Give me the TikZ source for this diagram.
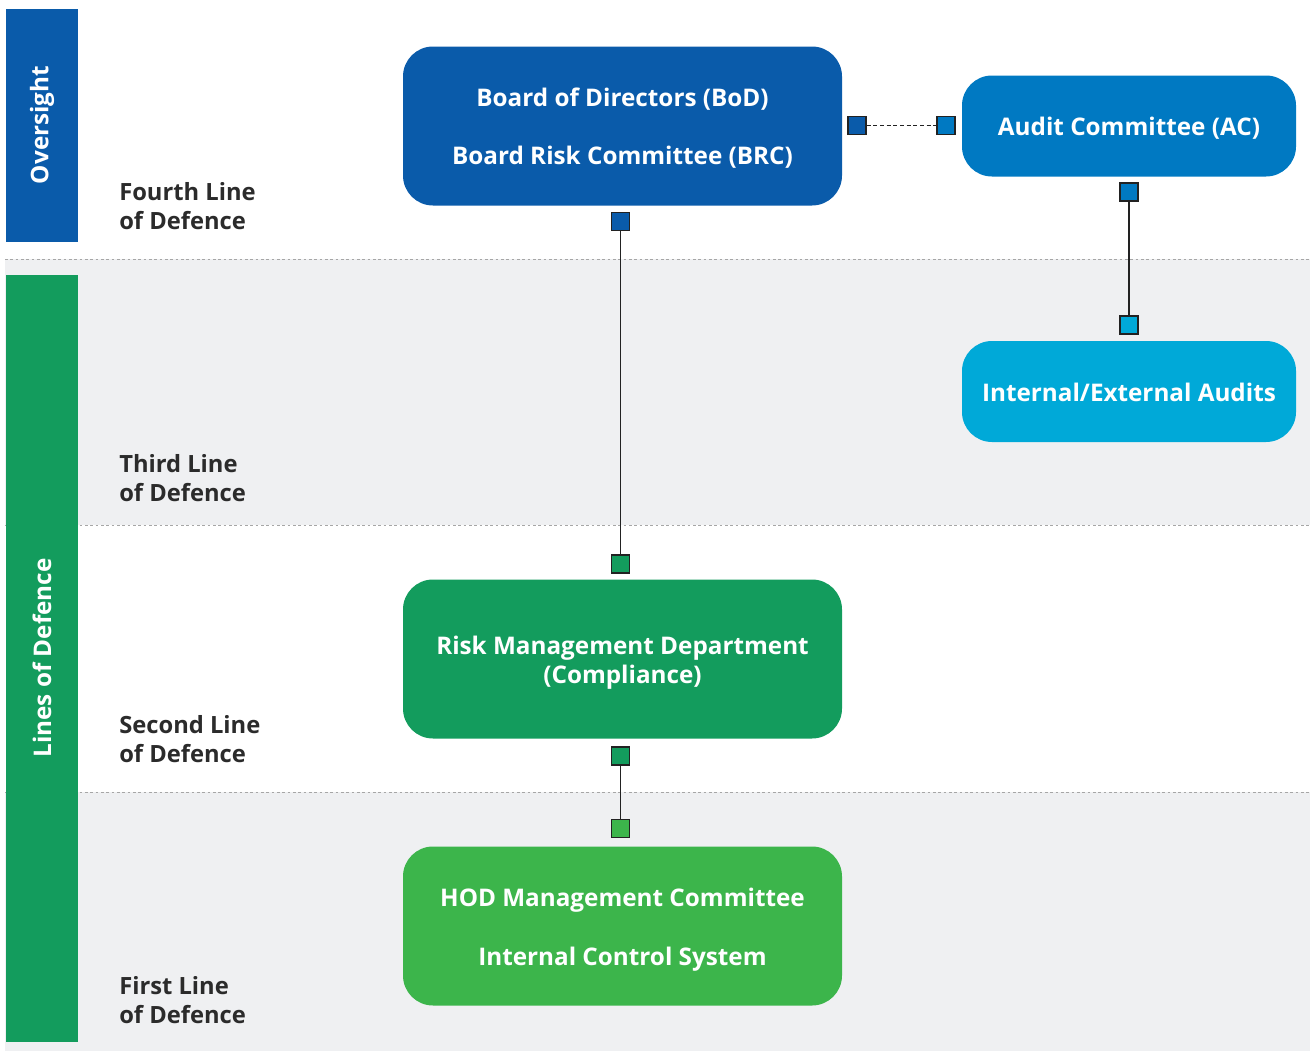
\documentclass[tikz,border=0pt]{standalone}
\usepackage{fontspec}
\setmainfont{Open Sans}
\definecolor{navy}{HTML}{0A5BAA}
\definecolor{midblue}{HTML}{0079C2}
\definecolor{skyblue}{HTML}{00A9D8}
\definecolor{leaf}{HTML}{139C5D}
\definecolor{lime}{HTML}{3CB54B}
\definecolor{band}{HTML}{EFF0F2}
\definecolor{ink}{HTML}{2B2B2B}
\definecolor{sqedge}{HTML}{222222}
\tikzset{
  unitbox/.style={rounded corners=22.5pt, inner sep=0pt},
  bigbox/.style={unitbox, minimum width=329.25pt, minimum height=119.25pt},
  smallbox/.style={unitbox, minimum width=250.5pt, minimum height=75.75pt},
  boxtext/.style={inner sep=0pt, text=white, align=center, font=\bfseries\fontsize{18.2}{22}\selectfont},
  pin/.style={draw=sqedge, line width=1.1pt, minimum size=13.5pt, inner sep=0pt},
  tierlabel/.style={anchor=west, inner sep=0pt, text=ink, align=left, font=\bfseries\fontsize{17.8}{21.75}\selectfont},
  sidebar/.style={inner sep=0pt, text=white, font=\bfseries\fontsize{18.2}{22}\selectfont, rotate=90},
  divider/.style={draw=gray!70, dash pattern=on 2pt off 2pt, line width=0.6pt},
  wire/.style={draw=sqedge, line width=0.9pt}
}
\begin{document}
\begin{tikzpicture}[x=0.75pt, y=-0.75pt]
\useasboundingbox (0,0) rectangle (1310,1053);
% shaded tiers
\fill[band] (5,259) rectangle (1310,525);
\fill[band] (5,792) rectangle (1310,1051);
\draw[divider] (5,259) -- (1310,259);
\draw[divider] (5,525) -- (1310,525);
\draw[divider] (5,792) -- (1310,792);
% side bars
\fill[navy] (6,9) rectangle (78,242);
\fill[leaf] (6,275) rectangle (78,1042);
\node[sidebar] (oversight) at (42,125) {Oversight};
\node[sidebar] (lines) at (42,658) {Lines of Defence};
% tier labels
\node[tierlabel] (l4) at (119,206) {Fourth Line\\of Defence};
\node[tierlabel] (l3) at (119,478) {Third Line\\of Defence};
\node[tierlabel] (l2) at (119,739) {Second Line\\of Defence};
\node[tierlabel] (l1) at (119,1000) {First Line\\of Defence};
% boxes
\node[bigbox, fill=navy] (bod) at (622.5,126) {};
\node[smallbox, fill=midblue] (ac) at (1129,126) {};
\node[smallbox, fill=skyblue] (audits) at (1129,391.5) {};
\node[bigbox, fill=leaf] (rmd) at (622.5,659) {};
\node[bigbox, fill=lime] (hod) at (622.5,926) {};
% box captions
\node[boxtext, font=\bfseries\fontsize{18.2}{43.5}\selectfont] (bodtext) at (622.5,128) {Board of Directors (BoD)\\Board Risk Committee (BRC)};
\node[boxtext] (actext) at (1129,128) {Audit Committee (AC)};
\node[boxtext] (auditstext) at (1129,392.5) {Internal/External Audits};
\node[boxtext, font=\bfseries\fontsize{18.2}{21.75}\selectfont] (rmdtext) at (622.5,663) {Risk Management Department\\(Compliance)};
\node[boxtext, font=\bfseries\fontsize{18.2}{44.25}\selectfont] (hodtext) at (622.5,930) {HOD Management Committee\\Internal Control System};
% connector pins
\node[pin, fill=navy] (p1) at (620.5,221.5) {};
\node[pin, fill=navy] (p2) at (857,125.5) {};
\node[pin, fill=midblue] (p3) at (946,125.5) {};
\node[pin, fill=midblue] (p4) at (1129,192) {};
\node[pin, fill=skyblue] (p5) at (1129,325) {};
\node[pin, fill=leaf] (p6) at (620.5,564) {};
\node[pin, fill=leaf] (p7) at (620.5,756) {};
\node[pin, fill=lime] (p8) at (620.5,828.5) {};
% connectors
\draw[wire] (p1) -- (p6);
\draw[wire, dash pattern=on 3pt off 2pt] (p2) -- (p3);
\draw[wire] (p4) -- (p5);
\draw[wire] (p7) -- (p8);
\end{tikzpicture}
\end{document}
